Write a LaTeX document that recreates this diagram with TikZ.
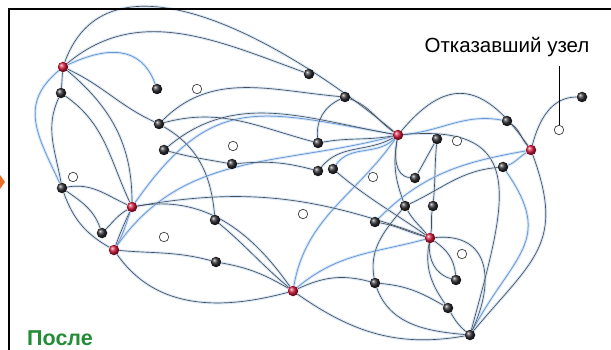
\documentclass[tikz,border=0pt]{standalone}
\usepackage{fontspec}
\setmainfont{Liberation Sans}
\pgfdeclarelayer{backdrop}
\pgfdeclarelayer{bg}
\pgfsetlayers{backdrop,bg,main}
\definecolor{hubred}{RGB}{215,25,60}
\definecolor{nodeblk}{RGB}{45,45,50}
\definecolor{edgegray}{RGB}{75,77,85}
\definecolor{edgeblue}{RGB}{105,150,210}
\definecolor{glowblue}{RGB}{212,230,248}
\definecolor{aftergreen}{RGB}{35,140,55}
\definecolor{arroworange}{RGB}{235,110,40}
\newcommand{\myedges}[2]{%
  \draw[#1] (r1) to[out=70,in=140] (r2);
  \draw[#1] (r1) to[out=40,in=160] (a3);
  \draw[#2] (r1) to[out=25,in=110,looseness=1.2] (a2);
  \draw[#1] (r1) to[out=-95,in=85] (a1);
  \draw[#1] (r1) to[out=-40,in=90] (r4);
  \draw[#1] (a1) to[out=-35,in=115] (r4);
  \draw[#1] (r1) to[out=-25,in=155] (a5);
  \draw[#1] (a5) to[out=-30,in=95] (a17);
  \draw[#1] (a17) to[out=-40,in=140] (r7);
  \draw[#1] (r4) to[out=10,in=125] (r7);
  \draw[#2] (r1) to[out=-140,in=115,looseness=1.2] (a16);
  \draw[#1] (a1) to[out=-115,in=100] (a16);
  \draw[#1] (a16) to[out=-70,in=150] (r5);
  \draw[#1] (a16) to[out=-35,in=110] (a21);
  \draw[#1] (a16) to[out=10,in=155] (r4);
  \draw[#1] (r4) to[out=-115,in=70] (r5);
  \draw[#2] (r5) to[out=60,in=-110] (r4);
  \draw[#1] (a21) to[out=45,in=-150] (r4);
  \draw[#2] (r4) to[out=55,in=170,looseness=1.3] (r2);
  \draw[#1] (a6) to[out=40,in=170] (r2);
  \draw[#2] (r5) to[out=55,in=-165] (r2);
  \draw[#2] (r7) to[out=80,in=-125] (r2);
  \draw[#1] (a5) to[out=45,in=175] (a4);
  \draw[#1] (a4) to[out=-20,in=145] (r2);
  \draw[#1] (a4) to[out=-155,in=95] (a8);
  \draw[#1] (a8) to[out=10,in=-170] (r2);
  \draw[#1] (a5) to[out=15,in=165] (a8);
  \draw[#1] (a6) to[out=-15,in=170] (a7);
  \draw[#1] (a7) to[out=5,in=165] (a9);
  \draw[#2] (a10) to[out=55,in=-135] (r2);
  \draw[#1] (a9) to[out=50,in=-150] (r2);
  \draw[#1] (a10) to[out=-40,in=145] (r6);
  \draw[#1] (r2) to[out=-100,in=175] (a15);
  \draw[#1] (r2) to[out=-100,in=110] (a18);
  \draw[#1] (a11) to[out=-120,in=60] (a15);
  \draw[#1] (a11) to[out=-95,in=85] (a19);
  \draw[#1] (a19) to[out=-100,in=80] (r6);
  \draw[#1] (r2) to[out=50,in=125,looseness=1.5] (r3);
  \draw[#2] (r2) to[out=5,in=170] (a12);
  \draw[#1] (r2) to[out=5,in=75,looseness=1.6] (a26);
  \draw[#1] (r3) to[out=-70,in=50,looseness=1.3] (a26);
  \draw[#2] (a14) to[out=-55,in=62,looseness=1.35] (a26);
  \draw[#2] (r3) to[out=-150,in=20] (a14);
  \draw[#1] (r3) to[out=75,in=180] (a13);
  \draw[#1] (a12) to[out=-35,in=130] (r3);
  \draw[#2] (r3) to[out=-170,in=45] (a20);
  \draw[#1] (a14) to[out=-175,in=25] (a18);
  \draw[#1] (a20) to[out=-10,in=165] (r6);
  \draw[#1] (a18) to[out=-60,in=130] (r6);
  \draw[#1] (r4) to[out=10,in=160] (r6);
  \draw[#1] (a18) to[out=-130,in=100] (a23);
  \draw[#2] (r7) to[out=40,in=-165] (r6);
  \draw[#1] (r7) to[out=25,in=165] (a23);
  \draw[#1] (a23) to[out=-5,in=150] (a25);
  \draw[#1] (a23) to[out=-70,in=175] (a26);
  \draw[#1] (r6) to[out=-95,in=165] (a24);
  \draw[#1] (r6) to[out=-35,in=95] (a24);
  \draw[#1] (r6) to[out=-100,in=125] (a25);
  \draw[#1] (r6) to[out=5,in=65,looseness=1.4] (a26);
  \draw[#1] (a25) to[out=-60,in=140] (a26);
  \draw[#1] (r7) to[out=-35,in=-170] (a26);
  \draw[#1] (r5) to[out=-55,in=-165] (r7);
  \draw[#1] (r5) to[out=-5,in=165] (a22);
  \draw[#1] (a22) to[out=-10,in=150] (r7);
}
\begin{document}
\begin{tikzpicture}[x=1pt,y=1pt,
  hub/.style={circle,inner sep=0pt,minimum size=10.5pt,ball color=hubred},
  blk/.style={circle,inner sep=0pt,minimum size=10.5pt,ball color=nodeblk},
  fail/.style={circle,inner sep=0pt,minimum size=9.5pt,draw=black!75,fill=white,line width=0.7pt},
  ed/.style={edgegray,line width=0.65pt},
  eb/.style={edgeblue,line width=0.75pt},
  gl/.style={glowblue,line width=2.8pt},
  lbl/.style={font=\fontsize{20.5}{23}\selectfont,inner sep=0pt},
  aftertxt/.style={font=\bfseries\fontsize{21.5}{24}\selectfont,text=aftergreen,inner sep=0pt,anchor=base west}]
\useasboundingbox (0,0) rectangle (611,-350);
\begin{pgfonlayer}{backdrop}
\fill[white] (0,0) rectangle (611,-350);
\end{pgfonlayer}
% frame
\draw[line width=2pt,black] (9,-350) -- (9,-9) -- (611,-9);
% orange arrow tip at left edge
\fill[arroworange] (0,-175) -- (5,-182) -- (0,-189) -- cycle;
% hubs
\node[hub] (r1) at (63,-67) {};
\node[hub] (r2) at (398,-135) {};
\node[hub] (r3) at (531,-150) {};
\node[hub] (r4) at (132,-207) {};
\node[hub] (r5) at (114,-250) {};
\node[hub] (r6) at (430,-238) {};
\node[hub] (r7) at (293,-291) {};
% ordinary nodes
\node[blk] (a1) at (61,-93) {};
\node[blk] (a2) at (157,-89) {};
\node[blk] (a3) at (309,-74) {};
\node[blk] (a4) at (345,-97) {};
\node[blk] (a5) at (159,-124) {};
\node[blk] (a6) at (164,-150) {};
\node[blk] (a7) at (232,-164) {};
\node[blk] (a8) at (318,-143) {};
\node[blk] (a9) at (318,-171) {};
\node[blk] (a10) at (333,-169) {};
\node[blk] (a11) at (437,-139) {};
\node[blk] (a12) at (507,-121) {};
\node[blk] (a13) at (582,-97) {};
\node[blk] (a14) at (503,-167) {};
\node[blk] (a15) at (415,-178) {};
\node[blk] (a16) at (62,-188) {};
\node[blk] (a17) at (215,-220) {};
\node[blk] (a18) at (405,-206) {};
\node[blk] (a19) at (433,-206) {};
\node[blk] (a20) at (375,-222) {};
\node[blk] (a21) at (102,-233) {};
\node[blk] (a22) at (216,-262) {};
\node[blk] (a23) at (375,-283) {};
\node[blk] (a24) at (456,-280) {};
\node[blk] (a25) at (448,-308) {};
\node[blk] (a26) at (470,-335) {};
% failed nodes
\node[fail] (f1) at (197,-89) {};
\node[fail] (f2) at (233,-146) {};
\node[fail] (f3) at (373,-177) {};
\node[fail] (f4) at (457,-141) {};
\node[fail] (f5) at (559,-130) {};
\node[fail] (f6) at (73,-177) {};
\node[fail] (f7) at (303,-214) {};
\node[fail] (f8) at (164,-237) {};
\node[fail] (f9) at (462,-254) {};
% edges
\begin{pgfonlayer}{bg}
\myedges{gl}{gl}
\myedges{ed}{eb}
\end{pgfonlayer}
% label
\node[lbl] (lab) at (507,-47) {Отказавший узел};
\coordinate (lt) at (559,-66);
\draw[black,line width=0.7pt] (lt) -- (f5.north);
\node[aftertxt] (after) at (27,-345) {После};
\end{tikzpicture}
\end{document}
